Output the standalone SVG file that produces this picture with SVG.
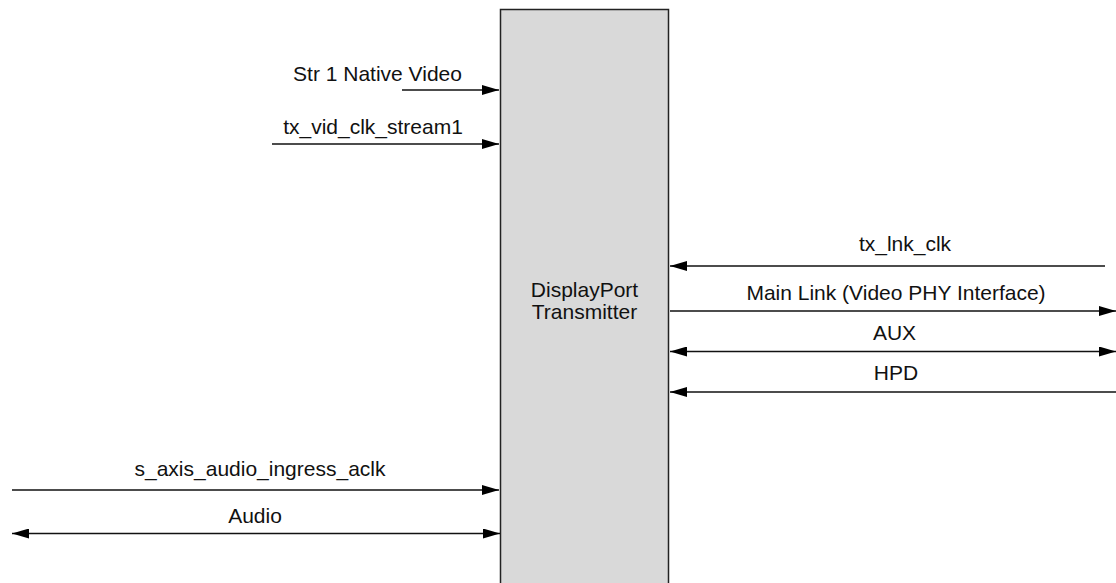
<svg xmlns="http://www.w3.org/2000/svg" width="1116" height="583" viewBox="0 0 1116 583">
  <style>
    .lbl { font-family: "Liberation Sans", Arial, sans-serif; font-size: 21px; fill: #111; text-anchor: middle; }
    .wire { stroke: #111; stroke-width: 1.5; fill: none; }
    .block { fill: #d9d9d9; stroke: #222; stroke-width: 1.5; }
  </style>
  <defs>
    <marker id="arrow" viewBox="0 0 17 10" refX="17" refY="5" markerWidth="17" markerHeight="10" markerUnits="userSpaceOnUse" orient="auto-start-reverse">
      <path d="M0,0 L17,5 L0,10 Z" fill="#000"/>
    </marker>
  </defs>
  <rect width="1116" height="583" fill="#fff"/>

  <g id="displayport-transmitter">
    <rect class="block" x="500.5" y="9.5" width="168" height="600"/>
    <text class="lbl" x="584.5" y="297">DisplayPort</text>
    <text class="lbl" x="584.5" y="319">Transmitter</text>
  </g>

  <g id="connectors">
    <line class="wire" x1="402" y1="90" x2="499" y2="90" marker-end="url(#arrow)"/>
    <line class="wire" x1="272" y1="144" x2="499" y2="144" marker-end="url(#arrow)"/>
    <line class="wire" x1="1105" y1="266" x2="670" y2="266" marker-end="url(#arrow)"/>
    <line class="wire" x1="670" y1="311" x2="1116" y2="311" marker-end="url(#arrow)"/>
    <line class="wire" x1="670" y1="351.5" x2="1116" y2="351.5" marker-start="url(#arrow)" marker-end="url(#arrow)"/>
    <line class="wire" x1="1116" y1="392" x2="670" y2="392" marker-end="url(#arrow)"/>
    <line class="wire" x1="12" y1="490" x2="499" y2="490" marker-end="url(#arrow)" stroke="#444" stroke-width="2"/>
    <line class="wire" x1="12" y1="533.5" x2="500" y2="533.5" marker-start="url(#arrow)" marker-end="url(#arrow)"/>
  </g>

  <g id="labels">
    <text class="lbl" x="377.5" y="80.5">Str 1 Native Video</text>
    <text class="lbl" x="373" y="134">tx_vid_clk_stream1</text>
    <text class="lbl" x="905" y="251">tx_lnk_clk</text>
    <text class="lbl" x="896" y="300">Main Link (Video PHY Interface)</text>
    <text class="lbl" x="894.5" y="340">AUX</text>
    <text class="lbl" x="896" y="380">HPD</text>
    <text class="lbl" x="260" y="476">s_axis_audio_ingress_aclk</text>
    <text class="lbl" x="255" y="522.5">Audio</text>
  </g>
</svg>
